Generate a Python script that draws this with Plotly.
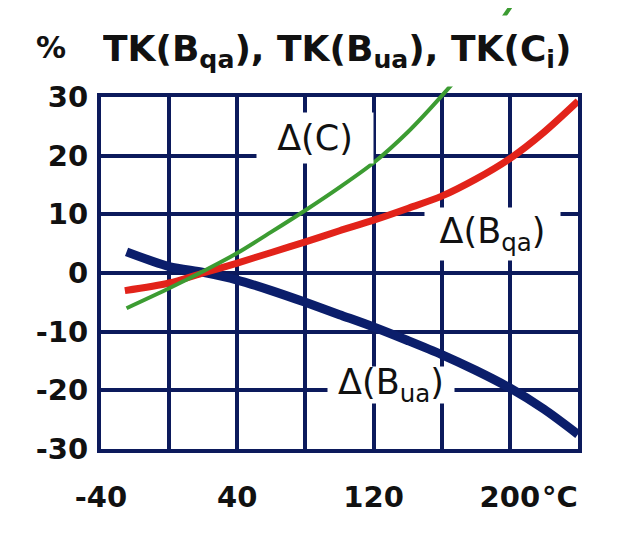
import plotly.graph_objects as go

# values: temperature (°C) -> relative change (%)
bua_temp = [-25, 0, 20, 40, 60, 80, 100, 120, 140, 160, 180, 200, 220, 240]
bua_pct = [3.6, 1.1, 0.1, -1.2, -3.0, -5.0, -7.1, -9.2, -11.5, -13.9, -16.6, -19.6, -23.2, -27.5]

bqa_temp = [-26, 0, 20, 40, 60, 80, 100, 120, 140, 160, 180, 200, 220, 240]
bqa_pct = [-3.0, -1.7, 0.0, 1.7, 3.5, 5.3, 7.2, 9.0, 11.0, 13.1, 16.0, 19.5, 24.0, 29.3]

c_temp = [-25, 0, 20, 40, 60, 80, 100, 120, 140, 160, 180, 200, 212]
c_pct = [-6.0, -2.6, 0.3, 3.4, 7.0, 10.7, 14.6, 18.8, 24.0, 30.2, 37.0, 45.2, 50.5]

x_ticks = [-40, 0, 40, 80, 120, 160, 200, 240]
x_labels = ["-40", "", "40", "", "120", "", "200", ""]
y_ticks = [-30, -20, -10, 0, 10, 20, 30]
y_labels = ["-30", "-20", "-10", "0", "10", "20", "30"]

NAVY = "#0c1a5c"
# page body adds 8px around the figure, so the figure is 8px smaller
W, H = 628, 543
L, R, T, B = 93, 58, 0, 102
plot_h = H - T - B
main_h = 352
main_top = main_h / plot_h
# second y axis has the same scale but reaches the top of the page,
# so the green curve can run out of the frame like in the original
y2_top = -30 + plot_h * 60 / main_h

tick_font = dict(family="DejaVu Sans", size=29, color="#111111", weight="bold")
label_font = dict(family="DejaVu Sans", size=35, color="#111111")

fig = go.Figure()
fig.add_trace(go.Scatter(x=bua_temp, y=bua_pct, mode="lines",
                         line=dict(color="#0b1e6b", width=9, shape="spline", smoothing=0.8),
                         showlegend=False, hoverinfo="skip"))
fig.add_trace(go.Scatter(x=bqa_temp, y=bqa_pct, mode="lines",
                         line=dict(color="#e2231a", width=7, shape="spline", smoothing=0.8),
                         showlegend=False, hoverinfo="skip"))
fig.add_trace(go.Scatter(x=c_temp, y=c_pct, mode="lines", xaxis="x2", yaxis="y2",
                         line=dict(color="#3c9c32", width=4, shape="spline", smoothing=0.8),
                         showlegend=False, hoverinfo="skip"))

fig.update_layout(
  width=W, height=H,
  margin=dict(l=L, r=R, t=T, b=B, pad=0, autoexpand=False),
  paper_bgcolor="white",
  plot_bgcolor="rgba(0,0,0,0)",
  xaxis=dict(range=[-40, 240], domain=[0, 1], anchor="y", automargin=False,
             tickvals=x_ticks, ticktext=x_labels, tickfont=tick_font,
             ticks="", ticklabelstandoff=19,
             showgrid=True, gridcolor=NAVY, gridwidth=4, zeroline=False,
             showline=True, mirror=True, linecolor=NAVY, linewidth=4),
  yaxis=dict(range=[-30, 30], domain=[0, main_top], anchor="x", automargin=False,
             tickvals=y_ticks, ticktext=y_labels, tickfont=tick_font,
             ticks="", ticklabelstandoff=3,
             showgrid=True, gridcolor=NAVY, gridwidth=4, zeroline=False,
             showline=True, mirror=True, linecolor=NAVY, linewidth=4),
  xaxis2=dict(range=[-40, 240], domain=[0, 1], anchor="y2", visible=False, automargin=False),
  yaxis2=dict(range=[-30, y2_top], domain=[0, 1], anchor="x2", visible=False, automargin=False),
)

# curve labels on white boxes that break the grid
fig.add_annotation(x=85.6, y=23.0, xref="x", yref="y", text="Δ(C)",
                   showarrow=False, font=label_font, bgcolor="white",
                   width=116, height=50, borderpad=0)
fig.add_annotation(x=189.8, y=6.6, xref="x", yref="y", text="Δ(B<sub>qa</sub>)",
                   showarrow=False, font=label_font, bgcolor="white",
                   width=135, height=52, borderpad=0)
fig.add_annotation(x=130, y=-19.1, xref="x", yref="y", text="Δ(B<sub>ua</sub>)",
                   showarrow=False, font=label_font, bgcolor="white",
                   width=126, height=36, borderpad=0)

# heading
fig.add_annotation(x=0, y=37.9, xref="paper", yref="y2", xanchor="left", xshift=1,
                   text="TK(B<sub>qa</sub>), TK(B<sub>ua</sub>), TK(C<sub>i</sub>)",
                   showarrow=False, align="left", bgcolor="white", width=480, height=70,
                   borderpad=0,
                   font=dict(family="DejaVu Sans", size=36, color="#111111", weight="bold"))
fig.add_annotation(x=-0.14, y=38.4, xref="paper", yref="y2", text="%",
                   showarrow=False,
                   font=dict(family="DejaVu Sans", size=30, color="#111111", weight="bold"))

# unit after the last x label
fig.add_annotation(x=200, y=-30, xref="x", yref="y", xanchor="left", yanchor="middle",
                   xshift=30, yshift=-48, text="°C", showarrow=False, font=tick_font)

fig.write_html("out.html")
